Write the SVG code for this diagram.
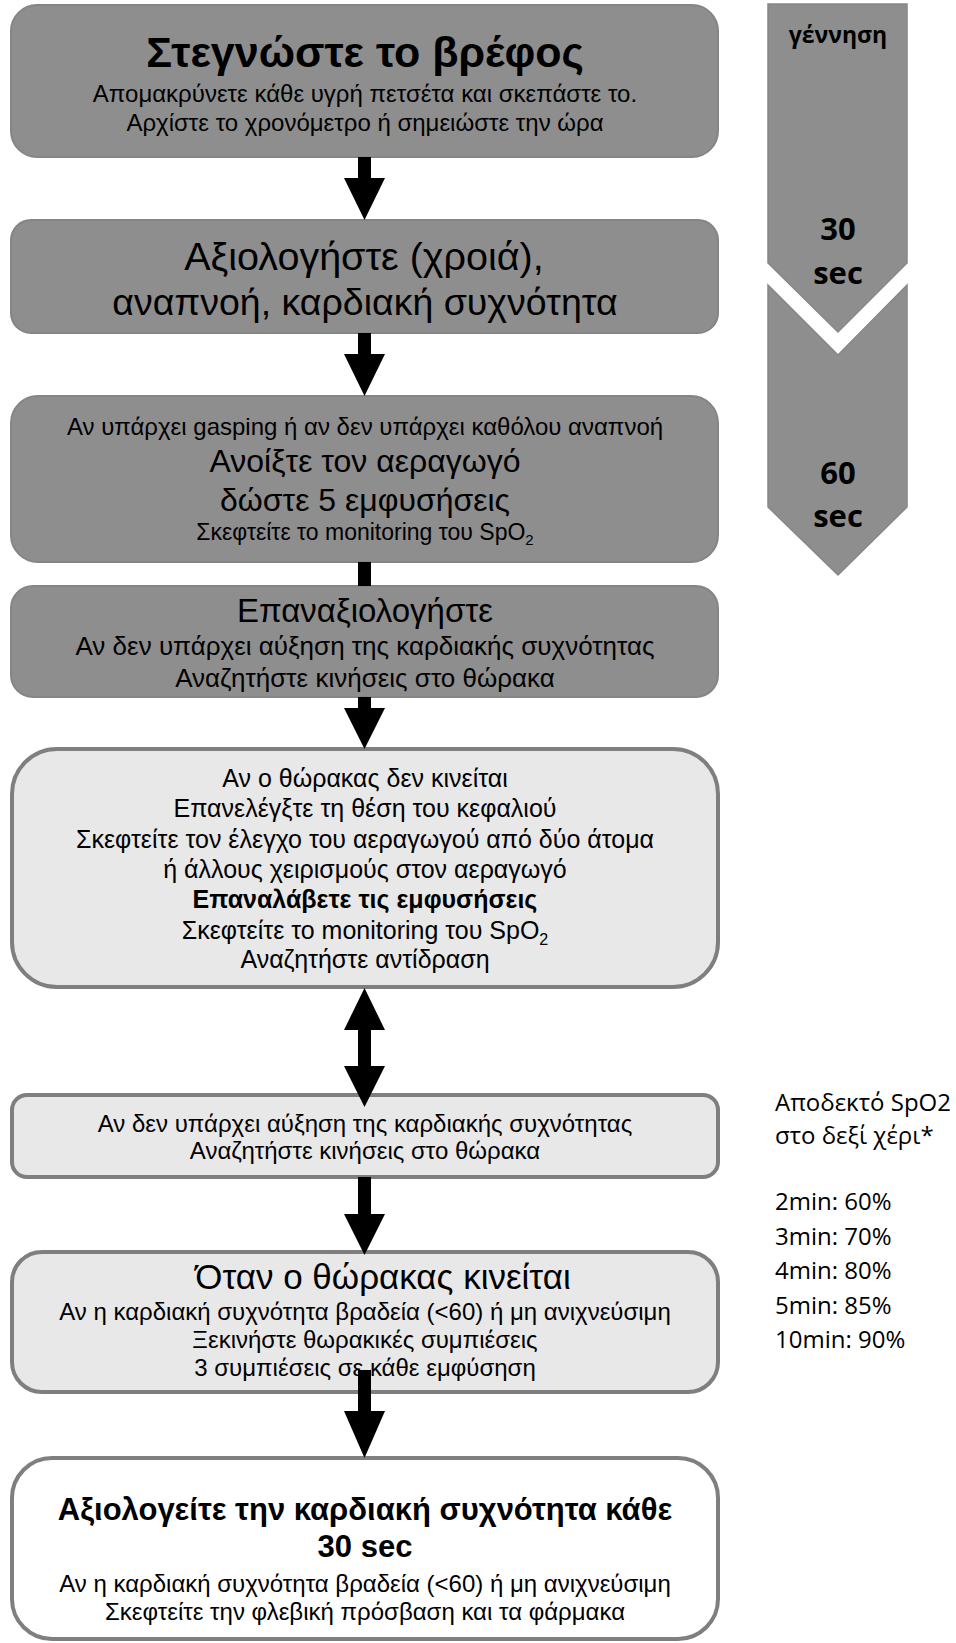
<svg xmlns="http://www.w3.org/2000/svg" width="956" height="1643" viewBox="0 0 956 1643">
<style>
.dark{fill:#8e8e8e;stroke:#858585;stroke-width:2}
.light{fill:#e8e8e8;stroke:#7f7f7f;stroke-width:4}
.white{fill:#ffffff;stroke:#7f7f7f;stroke-width:4}
.chev{fill:#8e8e8e;stroke:#878787;stroke-width:1.5}
text{font-family:"Liberation Sans",Arial,sans-serif;fill:#000;text-anchor:middle}
.b{font-weight:bold}
.r{font-family:"Open Sans","Noto Sans",sans-serif;text-anchor:start}
.rb{font-family:"Open Sans","Noto Sans",sans-serif;font-weight:bold}
.arrow{fill:#000}
</style>
<rect width="956" height="1643" fill="#fff"/>
<g id="timeline">
<polygon class="chev" points="768,4 907,4 907,263 838,332 768,263"/>
<polygon class="chev" points="768,285 838,355 907,285 907,507 838,575 768,507"/>
<text class="rb" x="838" y="43" font-size="23">γέννηση</text>
<text class="rb" x="838" y="240" font-size="31">30</text>
<text class="rb" x="838" y="284" font-size="31">sec</text>
<text class="rb" x="838" y="484" font-size="31">60</text>
<text class="rb" x="838" y="527" font-size="31">sec</text>
</g>
<g id="spo2-note">
<text class="r" x="775" y="1111" font-size="24">Αποδεκτό SpO2</text>
<text class="r" x="775" y="1144" font-size="24">στο δεξί χέρι*</text>
<text class="r" x="775" y="1210" font-size="24">2min: 60%</text>
<text class="r" x="775" y="1245" font-size="24">3min: 70%</text>
<text class="r" x="775" y="1279" font-size="24">4min: 80%</text>
<text class="r" x="775" y="1314" font-size="24">5min: 85%</text>
<text class="r" x="775" y="1348" font-size="24">10min: 90%</text>
</g>
<g id="n1">
<rect class="dark" x="11" y="5" width="707" height="152" rx="26"/>
<text class="b" x="365" y="67" font-size="43">Στεγνώστε το βρέφος</text>
<text x="365" y="101.5" font-size="24">Απομακρύνετε κάθε υγρή πετσέτα και σκεπάστε το.</text>
<text x="365" y="130.5" font-size="24">Αρχίστε το χρονόμετρο ή σημειώστε την ώρα</text>
</g>
<g id="n2">
<rect class="dark" x="11" y="220" width="707" height="113" rx="20"/>
<text x="364" y="270" font-size="39.5">Αξιολογήστε (χροιά),</text>
<text x="365" y="315" font-size="37.5">αναπνοή, καρδιακή συχνότητα</text>
</g>
<g id="n3">
<rect class="dark" x="11" y="396" width="707" height="166" rx="27"/>
<text x="365" y="434.5" font-size="24">Αν υπάρχει gasping ή αν δεν υπάρχει καθόλου αναπνοή</text>
<text x="365" y="472" font-size="32">Ανοίξτε τον αεραγωγό</text>
<text x="365" y="511" font-size="32">δώστε 5 εμφυσήσεις</text>
<text x="365" y="540" font-size="23">Σκεφτείτε το monitoring του SpO<tspan font-size="15" dy="5">2</tspan></text>
</g>
<g id="n4">
<rect class="dark" x="11" y="586" width="707" height="111" rx="22"/>
<text x="365" y="621.5" font-size="33">Επαναξιολογήστε</text>
<text x="365" y="655" font-size="26">Αν δεν υπάρχει αύξηση της καρδιακής συχνότητας</text>
<text x="365" y="687" font-size="26">Αναζητήστε κινήσεις στο θώρακα</text>
</g>
<g id="n5">
<rect class="light" x="12" y="749" width="706" height="238" rx="45"/>
<text x="365" y="787" font-size="25">Αν ο θώρακας δεν κινείται</text>
<text x="365" y="817" font-size="25">Επανελέγξτε τη θέση του κεφαλιού</text>
<text x="365" y="848" font-size="25">Σκεφτείτε τον έλεγχο του αεραγωγού από δύο άτομα</text>
<text x="365" y="878" font-size="25">ή άλλους  χειρισμούς στον αεραγωγό</text>
<text class="b" x="365" y="908" font-size="25">Επαναλάβετε τις εμφυσήσεις</text>
<text x="365" y="939" font-size="25">Σκεφτείτε το monitoring του SpO<tspan font-size="16" dy="6">2</tspan></text>
<text x="365" y="968" font-size="25">Αναζητήστε αντίδραση</text>
</g>
<g id="n6">
<rect class="light" x="12" y="1095" width="706" height="82" rx="15"/>
<text x="365" y="1131.5" font-size="24">Αν δεν υπάρχει αύξηση της καρδιακής συχνότητας</text>
<text x="365" y="1158.5" font-size="24">Αναζητήστε κινήσεις στο θώρακα</text>
</g>
<g id="n7">
<rect class="light" x="12" y="1252" width="706" height="140" rx="30"/>
<text x="383" y="1289" font-size="35">Όταν ο θώρακας κινείται</text>
<text x="365" y="1319.5" font-size="24">Αν η καρδιακή συχνότητα βραδεία (&lt;60) ή μη ανιχνεύσιμη</text>
<text x="365" y="1347.5" font-size="24">Ξεκινήστε θωρακικές συμπιέσεις</text>
<text x="365" y="1375.5" font-size="24">3 συμπιέσεις σε κάθε εμφύσηση</text>
</g>
<g id="n8">
<rect class="white" x="12" y="1458" width="706" height="181" rx="40"/>
<text class="b" x="365" y="1520" font-size="31">Αξιολογείτε την καρδιακή συχνότητα κάθε</text>
<text class="b" x="365" y="1557" font-size="31">30 sec</text>
<text x="365" y="1591.5" font-size="24">Αν η καρδιακή συχνότητα βραδεία (&lt;60) ή μη ανιχνεύσιμη</text>
<text x="365" y="1619.5" font-size="24">Σκεφτείτε την φλεβική πρόσβαση και τα φάρμακα</text>
</g>
<g id="connectors" class="arrow">
<polygon points="358,157 371,157 371,178 385,178 364.5,220 344,178 358,178"/>
<polygon points="358,333 371,333 371,354 385,354 364.5,396 344,354 358,354"/>
<rect x="358" y="562" width="13" height="24"/>
<polygon points="358,697 371,697 371,708 385,708 364.5,749 344,708 358,708"/>
<polygon points="364.5,988 385,1030 371,1030 371,1066 385,1066 364.5,1107 344,1066 358,1066 358,1030 344,1030"/>
<polygon points="358,1177 371,1177 371,1214 385,1214 364.5,1255 344,1214 358,1214"/>
<polygon points="358,1370 371,1370 371,1411 385,1411 364.5,1458 344,1411 358,1411"/>
</g>
</svg>
